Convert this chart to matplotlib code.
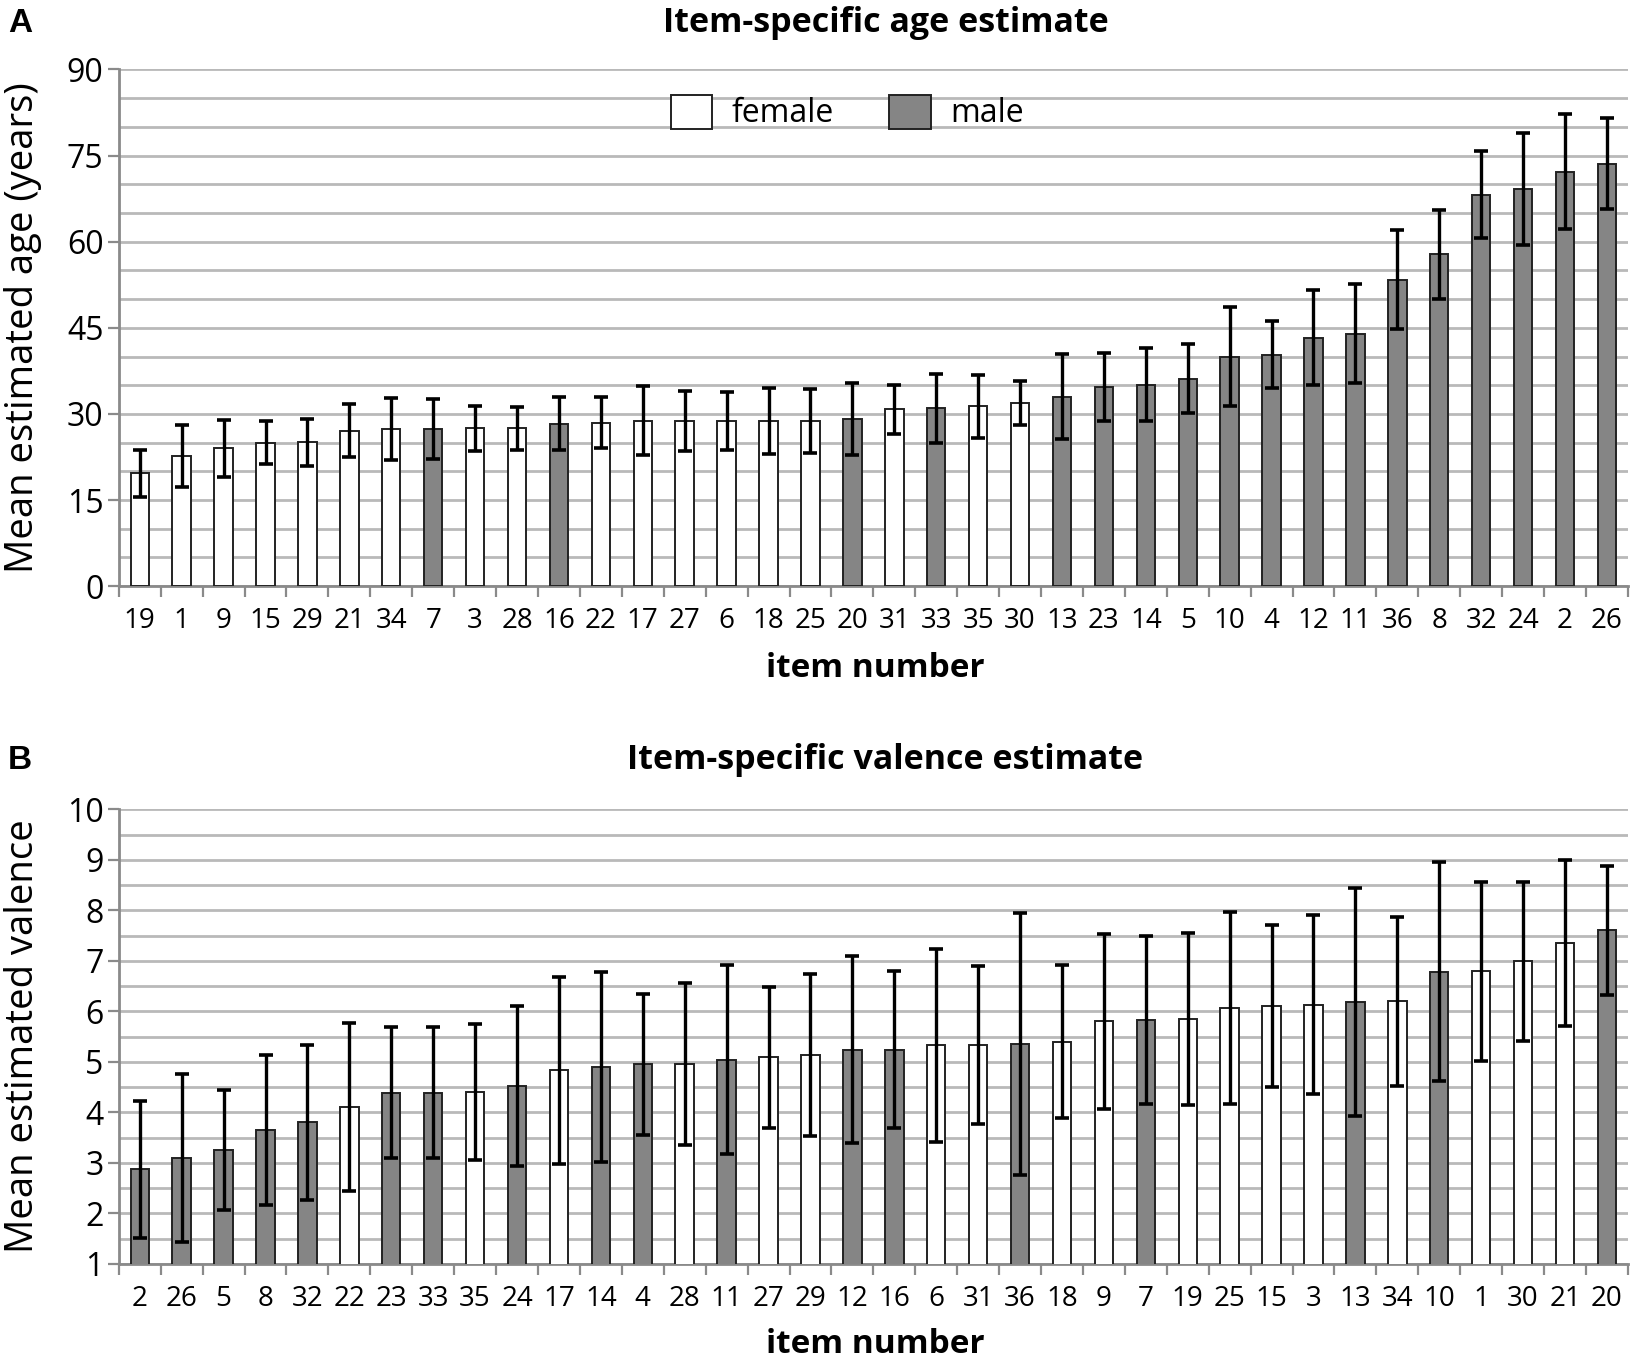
import matplotlib
matplotlib.use("Agg")
import matplotlib.pyplot as plt
from matplotlib.patches import Patch
from matplotlib.ticker import MultipleLocator, FixedLocator
import numpy as np

plt.rcParams['font.family'] = ['Open Sans', 'DejaVu Sans']

# ---------------- data ----------------
male_items = [7, 16, 20, 33, 13, 23, 14, 5, 10, 4, 12, 11, 36, 8, 32, 24, 2, 26]

age_items = [19, 1, 9, 15, 29, 21, 34, 7, 3, 28, 16, 22, 17, 27, 6, 18, 25, 20,
             31, 33, 35, 30, 13, 23, 14, 5, 10, 4, 12, 11, 36, 8, 32, 24, 2, 26]
age_mean = [19.7, 22.6, 24.0, 25.0, 25.1, 27.1, 27.3, 27.4, 27.5, 27.5, 28.3, 28.5,
            28.8, 28.8, 28.8, 28.8, 28.8, 29.1, 30.8, 31.0, 31.3, 31.9, 33.0, 34.7,
            35.1, 36.1, 40.0, 40.3, 43.3, 44.0, 53.4, 57.8, 68.2, 69.2, 72.2, 73.6]
age_err = [4.1, 5.4, 5.0, 3.7, 4.1, 4.6, 5.4, 5.2, 3.9, 3.7, 4.6, 4.4, 6.0, 5.2,
           5.0, 5.8, 5.6, 6.2, 4.3, 6.0, 5.5, 3.9, 7.4, 5.9, 6.4, 6.0, 8.7, 5.8,
           8.2, 8.6, 8.6, 7.7, 7.6, 9.8, 10.0, 7.9]

val_items = [2, 26, 5, 8, 32, 22, 23, 33, 35, 24, 17, 14, 4, 28, 11, 27, 29, 12,
             16, 6, 31, 36, 18, 9, 7, 19, 25, 15, 3, 13, 34, 10, 1, 30, 21, 20]
val_mean = [2.87, 3.09, 3.25, 3.65, 3.80, 4.11, 4.39, 4.39, 4.40, 4.52, 4.83, 4.90,
            4.95, 4.95, 5.04, 5.09, 5.13, 5.24, 5.24, 5.33, 5.33, 5.35, 5.40, 5.80,
            5.83, 5.85, 6.07, 6.10, 6.13, 6.18, 6.20, 6.78, 6.79, 6.99, 7.35, 7.60]
val_err = [1.36, 1.66, 1.19, 1.48, 1.54, 1.66, 1.29, 1.30, 1.35, 1.58, 1.85, 1.88,
           1.40, 1.60, 1.87, 1.40, 1.60, 1.85, 1.55, 1.91, 1.56, 2.59, 1.52, 1.73,
           1.66, 1.70, 1.90, 1.60, 1.77, 2.26, 1.67, 2.17, 1.77, 1.57, 1.64, 1.28]

MALE_C = '#858585'
FEMALE_C = '#ffffff'
GRID_C = '#b9b9b9'
AXIS_C = '#8a8a8a'

fig = plt.figure(figsize=(16.5, 13.67), dpi=100)
axA = fig.add_axes([0.072, 0.5712, 0.9146, 0.378])
axB = fig.add_axes([0.072, 0.0755, 0.9146, 0.3325])


def draw(ax, items, mean, err, ylo, yhi, major, minor, ylabel, title, title_y, xlabel_y):
    x = np.arange(len(items))
    colors = [MALE_C if it in male_items else FEMALE_C for it in items]
    ax.bar(x, mean, width=0.44, color=colors, edgecolor='#222222', linewidth=1.4, zorder=3)
    ax.errorbar(x, mean, yerr=err, fmt='none', ecolor='black', elinewidth=2.4,
                capsize=5, capthick=2.6, zorder=4)
    ax.set_xlim(-0.5, len(items) - 0.5)
    ax.set_ylim(ylo, yhi)
    ax.yaxis.set_major_locator(MultipleLocator(major))
    ax.yaxis.set_minor_locator(MultipleLocator(minor))
    ax.grid(axis='y', which='both', color=GRID_C, linewidth=2.0, zorder=0)
    ax.set_axisbelow(True)
    for s in ['top', 'right']:
        ax.spines[s].set_visible(False)
    for s in ['left', 'bottom']:
        ax.spines[s].set_color(AXIS_C)
        ax.spines[s].set_linewidth(2.0)
    ax.set_xticks(x)
    ax.set_xticklabels([str(i) for i in items], fontsize=20)
    ax.xaxis.set_minor_locator(FixedLocator(np.arange(-0.5, len(items), 1.0)))
    ax.tick_params(axis='x', which='major', length=0, pad=15)
    ax.tick_params(axis='x', which='minor', length=8, width=1.6, color=AXIS_C, direction='out')
    ax.tick_params(axis='y', which='major', length=8, width=1.6, color=AXIS_C,
                   labelsize=23, pad=3, direction='out')
    ax.tick_params(axis='y', which='minor', length=0)
    ax.set_ylabel(ylabel, fontsize=27.5, va='center')
    ax.yaxis.set_label_coords(-0.0635, 0.5)
    ax.set_xlabel('item number', fontsize=24, fontweight='bold', va='center')
    ax.xaxis.set_label_coords(0.501, xlabel_y)
    ax.text(0.508, title_y, title, transform=ax.transAxes, ha='center', va='center',
            fontsize=24.5, fontweight='bold')


draw(axA, age_items, age_mean, age_err, 0, 90, 15, 5,
     'Mean estimated age (years)', 'Item-specific age estimate', 1.089, -0.159)
draw(axB, val_items, val_mean, val_err, 1, 10, 1, 0.5,
     'Mean estimated valence', 'Item-specific valence estimate', 1.109, -0.178)

handles = [Patch(facecolor=FEMALE_C, edgecolor='#222222', linewidth=1.4, label='female'),
           Patch(facecolor=MALE_C, edgecolor='#222222', linewidth=1.4, label='male')]
axA.legend(handles=handles, loc='center', bbox_to_anchor=(0.4826, 0.9165), ncol=2,
           frameon=False, fontsize=23, handlelength=1.3, handleheight=1.25,
           handletextpad=0.6, columnspacing=1.75)

fig.text(0.012, 0.983, 'A', fontsize=24, fontweight='bold', ha='center', va='center',
         family=['Liberation Sans', 'DejaVu Sans'])
fig.text(0.012, 0.444, 'B', fontsize=24, fontweight='bold', ha='center', va='center',
         family=['Liberation Sans', 'DejaVu Sans'])

fig.savefig('out.png', dpi=100)
